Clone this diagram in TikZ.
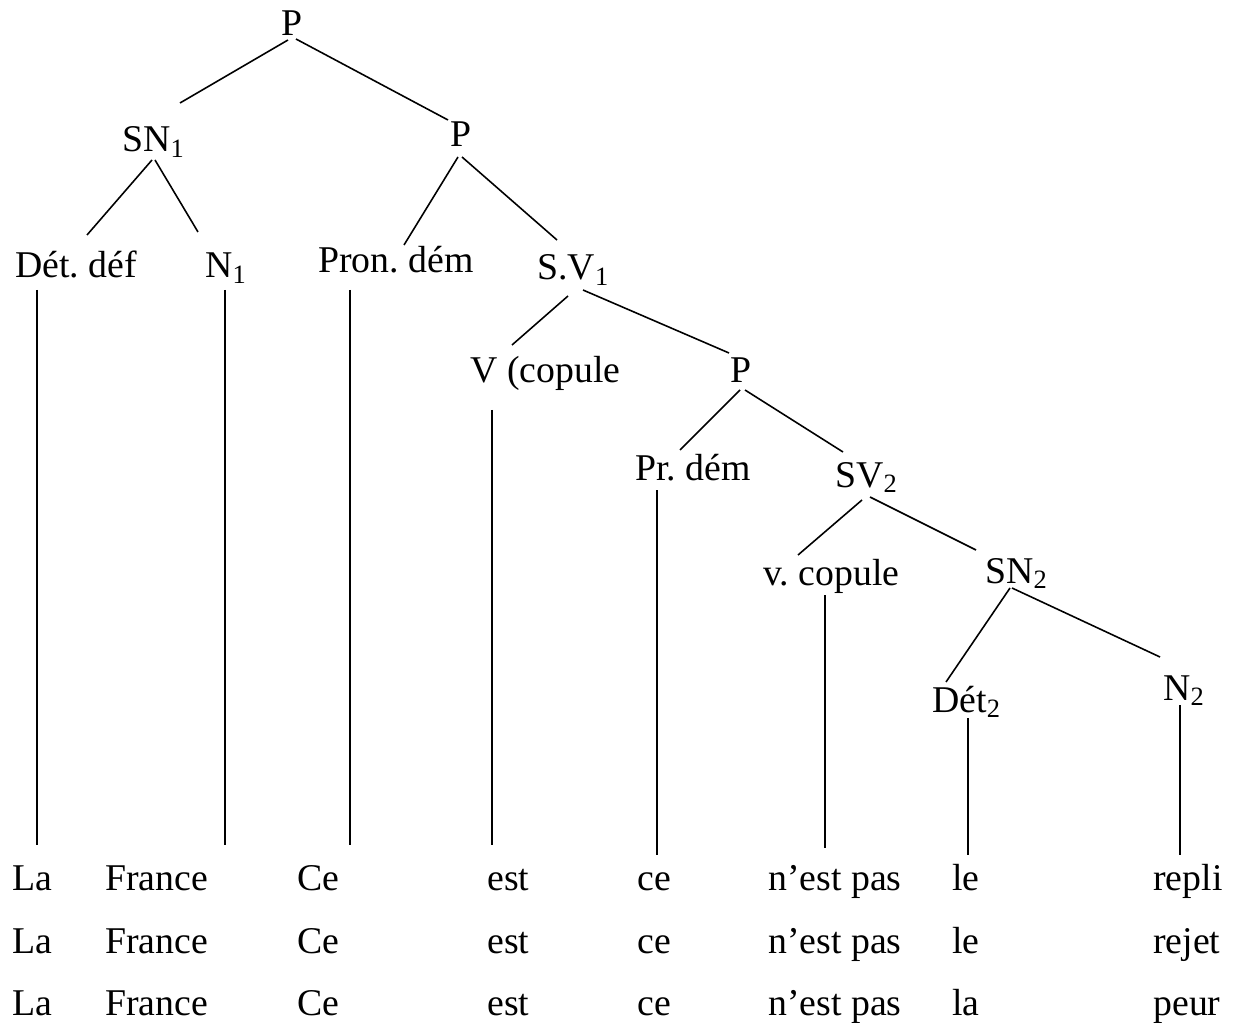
\documentclass[tikz,border=0pt]{standalone}
\usepackage{fontspec}
\setmainfont{Liberation Serif}
\frenchspacing
\usepackage{tikz}
\usetikzlibrary{positioning}
\tikzset{cat/.style={anchor=base west, inner sep=0pt, font=\fontsize{21.5}{26}\selectfont},
mot/.style={cat},
branche/.style={line width=0.9pt}}

\begin{document}
\begin{tikzpicture}[x=0.02cm, y=-0.02cm]
	\useasboundingbox (0,0) rectangle (1233,1023);
	% categories
	\node[cat] (P0) at (281,36) {P};
	\node[cat] (SN1) at (122,152) {SN\textsubscript{1}};
	\node[cat] (P1) at (450,147) {P};
	\node[cat] (Det1) at (15,278) {Dét. déf};
	\node[cat] (N1) at (205,278) {N\textsubscript{1}};
	\node[cat] (Pron) at (318,273) {Pron. dém};
	\node[cat] (SV1) at (537,280) {S.V\textsubscript{1}};
	\node[cat] (Vcop) at (470,383) {V (copule};
	\node[cat] (P2) at (730,383) {P};
	\node[cat] (Prdem) at (635,480) {Pr. dém};
	\node[cat] (SV2) at (835,487) {SV\textsubscript{2}};
	\node[cat] (vcop) at (763,585) {v. copule};
	\node[cat] (SN2) at (985,583) {SN\textsubscript{2}};
	\node[cat] (Det2) at (932,712) {Dét\textsubscript{2}};
	\node[cat] (N2) at (1163,700) {N\textsubscript{2}};
	% words
	\foreach \r/\y/\d/\n in {1/890/le/repli, 2/953/le/rejet, 3/1015/la/peur} {
		\node[mot] (la\r) at (12,\y) {La};
		\node[mot] (france\r) at (105,\y) {France};
		\node[mot] (ce\r) at (297,\y) {Ce};
		\node[mot] (est\r) at (487,\y) {est};
		\node[mot] (pce\r) at (637,\y) {ce};
		\node[mot] (nest\r) at (768,\y) {n’est pas};
		\node[mot] (det\r) at (952,\y) {\d};
		\node[mot] (nom\r) at (1153,\y) {\n};
	}
	% branches
	\draw[branche] ([shift={(7,4)}]P0.base west) -- ([shift={(58,-49)}]SN1.base west);
	\draw[branche] ([shift={(15,3)}]P0.base west) -- ([shift={(-2,-27)}]P1.base west);
	\draw[branche] ([shift={(30,8)}]SN1.base west) -- ([shift={(72,-43)}]Det1.base west);
	\draw[branche] ([shift={(33,8)}]SN1.base west) -- ([shift={(-7,-46)}]N1.base west);
	\draw[branche] ([shift={(8,10)}]P1.base west) -- ([shift={(86,-28)}]Pron.base west);
	\draw[branche] ([shift={(12,10)}]P1.base west) -- ([shift={(20,-40)}]SV1.base west);
	\draw[branche] ([shift={(31,16)}]SV1.base west) -- ([shift={(42,-38)}]Vcop.base west);
	\draw[branche] ([shift={(46,10)}]SV1.base west) -- ([shift={(-1,-30)}]P2.base west);
	\draw[branche] ([shift={(10,7)}]P2.base west) -- ([shift={(45,-30)}]Prdem.base west);
	\draw[branche] ([shift={(15,7)}]P2.base west) -- ([shift={(8,-35)}]SV2.base west);
	\draw[branche] ([shift={(27,13)}]SV2.base west) -- ([shift={(35,-30)}]vcop.base west);
	\draw[branche] ([shift={(35,10)}]SV2.base west) -- ([shift={(-9,-33)}]SN2.base west);
	\draw[branche] ([shift={(25,5)}]SN2.base west) -- ([shift={(14,-30)}]Det2.base west);
	\draw[branche] ([shift={(27,5)}]SN2.base west) -- ([shift={(-3,-43)}]N2.base west);
	% down to the words
	\draw[branche] ([shift={(22,12)}]Det1.base west) -- ([shift={(25,-45)}]la1.base west);
	\draw[branche] ([shift={(20,12)}]N1.base west) -- ([shift={(120,-45)}]france1.base west);
	\draw[branche] ([shift={(32,17)}]Pron.base west) -- ([shift={(53,-45)}]ce1.base west);
	\draw[branche] ([shift={(22,27)}]Vcop.base west) -- ([shift={(5,-45)}]est1.base west);
	\draw[branche] ([shift={(22,10)}]Prdem.base west) -- ([shift={(20,-35)}]pce1.base west);
	\draw[branche] ([shift={(62,10)}]vcop.base west) -- ([shift={(57,-42)}]nest1.base west);
	\draw[branche] ([shift={(36,6)}]Det2.base west) -- ([shift={(16,-35)}]det1.base west);
	\draw[branche] ([shift={(17,5)}]N2.base west) -- ([shift={(27,-35)}]nom1.base west);
\end{tikzpicture}
\end{document}
